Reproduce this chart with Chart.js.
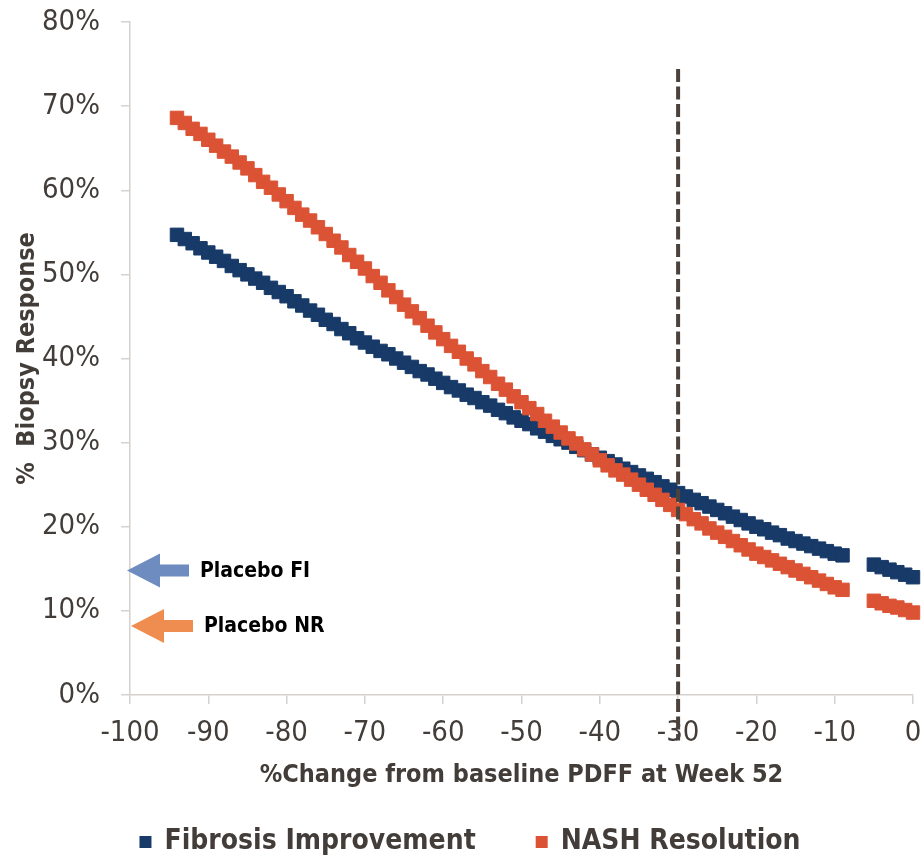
<!DOCTYPE html>
<html>
<head>
<meta charset="utf-8">
<script src="https://cdn.jsdelivr.net/npm/chart.js@4.4.1/dist/chart.umd.min.js"></script>
<style>
    html, body { margin: 0; padding: 0; background: #ffffff; }
</style>
</head>
<body>
<canvas id="biopsyChart" width="924" height="859"></canvas>
<script>
// % change from baseline PDFF at week 52 (x values, shared by both series)
var pdffChange = [
    -94, -93, -92, -91, -90, -89, -88, -87, -86, -85,
    -84, -83, -82, -81, -80, -79, -78, -77, -76, -75,
    -74, -73, -72, -71, -70, -69, -68, -67, -66, -65,
    -64, -63, -62, -61, -60, -59, -58, -57, -56, -55,
    -54, -53, -52, -51, -50, -49, -48, -47, -46, -45,
    -44, -43, -42, -41, -40, -39, -38, -37, -36, -35,
    -34, -33, -32, -31, -30, -29, -28, -27, -26, -25,
    -24, -23, -22, -21, -20, -19, -18, -17, -16, -15,
    -14, -13, -12, -11, -10, -9,
    -5, -4, -3, -2, -1, 0
];

// Fibrosis Improvement (%)
var fibrosisImprovement = [
    54.7, 54.2, 53.7, 53.1, 52.6, 52.1, 51.6, 51.0, 50.5, 50.0,
    49.5, 49.0, 48.4, 47.9, 47.4, 46.8, 46.3, 45.7, 45.2, 44.6,
    44.1, 43.5, 43.0, 42.4, 41.9, 41.4, 40.9, 40.5, 40.0, 39.5,
    39.0, 38.5, 38.1, 37.6, 37.1, 36.6, 36.2, 35.7, 35.3, 34.8,
    34.4, 33.9, 33.5, 33.0, 32.6, 32.2, 31.7, 31.3, 30.8, 30.4,
    30.0, 29.5, 29.1, 28.6, 28.2, 27.8, 27.4, 26.9, 26.5, 26.1,
    25.7, 25.3, 24.8, 24.4, 24.0, 23.6, 23.2, 22.8, 22.4, 22.0,
    21.6, 21.2, 20.8, 20.4, 20.0, 19.7, 19.3, 19.0, 18.6, 18.3,
    18.0, 17.7, 17.4, 17.1, 16.8, 16.6,
    15.5, 15.2, 14.9, 14.6, 14.3, 14.0
];

// NASH Resolution (%)
var nashResolution = [
    68.6, 68.0, 67.3, 66.7, 66.0, 65.3, 64.6, 64.0, 63.3, 62.6,
    61.8, 61.0, 60.3, 59.5, 58.7, 57.9, 57.1, 56.4, 55.6, 54.8,
    54.0, 53.2, 52.3, 51.5, 50.7, 49.8, 49.0, 48.1, 47.3, 46.4,
    45.6, 44.8, 43.9, 43.1, 42.3, 41.5, 40.8, 40.0, 39.3, 38.5,
    37.8, 37.0, 36.3, 35.5, 34.8, 34.1, 33.4, 32.6, 31.9, 31.2,
    30.5, 29.9, 29.2, 28.6, 27.9, 27.3, 26.7, 26.2, 25.6, 25.0,
    24.4, 23.8, 23.2, 22.6, 22.0, 21.5, 20.9, 20.4, 19.8, 19.3,
    18.8, 18.3, 17.8, 17.3, 16.8, 16.4, 16.0, 15.6, 15.2, 14.8,
    14.4, 14.0, 13.6, 13.2, 12.8, 12.5,
    11.2, 10.9, 10.6, 10.4, 10.1, 9.8
];

// placebo reference levels (arrows on the left)
var placeboLabels = ['Placebo FI', 'Placebo NR'];
var placeboValues = [14.8, 8.2];

// vertical cut-off
var cutoffChange = -30;

var FONT = "'Liberation Sans Narrow', 'DejaVu Sans Condensed', 'Open Sans', sans-serif";
var TEXT = '#433d39';
var AXIS = '#d6d1cd';

function toPoints(ys) {
    return pdffChange.map(function (x, i) { return { x: x, y: ys[i] }; });
}

var annotations = {
    id: 'annotations',
    afterDatasetsDraw: function (chart) {
        var ctx = chart.ctx;
        var xs = chart.scales.x, ys = chart.scales.y;

        // dashed line at -30
        var lx = xs.getPixelForValue(cutoffChange);
        ctx.save();
        ctx.strokeStyle = '#4b423d';
        ctx.lineWidth = 4;
        ctx.setLineDash([13, 4.5]);
        ctx.beginPath();
        ctx.moveTo(lx, ys.getPixelForValue(74.4));
        ctx.lineTo(lx, ys.getPixelForValue(-5.4));
        ctx.stroke();
        ctx.restore();

        // placebo arrows
        var colors = ['#6e8cbf', '#ef8d50'];
        var tips = [-3, 1];
        placeboValues.forEach(function (v, i) {
            var tx = xs.getPixelForValue(-100) + tips[i];
            var ty = ys.getPixelForValue(v);
            ctx.save();
            ctx.fillStyle = colors[i];
            ctx.beginPath();
            ctx.moveTo(tx, ty);
            ctx.lineTo(tx + 33, ty - 17);
            ctx.lineTo(tx + 33, ty - 6);
            ctx.lineTo(tx + 62, ty - 6);
            ctx.lineTo(tx + 62, ty + 6);
            ctx.lineTo(tx + 33, ty + 6);
            ctx.lineTo(tx + 33, ty + 17);
            ctx.closePath();
            ctx.fill();
            ctx.fillStyle = '#000000';
            ctx.font = 'bold 21px ' + FONT;
            ctx.textBaseline = 'middle';
            ctx.fillText(placeboLabels[i], tx + 73, ty + 1);
            ctx.restore();
        });
    },
    afterDraw: function (chart) {
        // legend under the axis title
        var ctx = chart.ctx;
        var sets = chart.data.datasets;
        ctx.save();
        ctx.font = 'bold 28px ' + FONT;
        ctx.textBaseline = 'middle';
        var widths = sets.map(function (ds) { return 25 + ctx.measureText(ds.label).width; });
        var total = widths.reduce(function (a, b) { return a + b; }, 0) + 60 * (sets.length - 1);
        var x = 470 - total / 2;
        var y = 842;
        sets.forEach(function (ds, i) {
            ctx.fillStyle = ds.backgroundColor;
            ctx.fillRect(x, y - 6, 12, 12);
            ctx.fillStyle = TEXT;
            ctx.fillText(ds.label, x + 25, y);
            x += widths[i] + 60;
        });
        ctx.restore();
    }
};

var ctx = document.getElementById('biopsyChart').getContext('2d');
var biopsyChart = new Chart(ctx, {
    type: 'scatter',
    data: {
        datasets: [{
            label: 'Fibrosis Improvement',
            data: toPoints(fibrosisImprovement),
            pointStyle: 'rect',
            pointRadius: 9.5,
            pointHoverRadius: 9.5,
            backgroundColor: '#173a69',
            borderColor: '#173a69',
            borderWidth: 1,
            clip: false,
            order: 1
        }, {
            label: 'NASH Resolution',
            data: toPoints(nashResolution),
            pointStyle: 'rect',
            pointRadius: 9.5,
            pointHoverRadius: 9.5,
            backgroundColor: '#db5334',
            borderColor: '#db5334',
            borderWidth: 1,
            clip: false,
            order: 0
        }]
    },
    options: {
        responsive: false,
        animation: false,
        layout: { padding: { top: 22, right: 11, bottom: 60, left: 0 } },
        plugins: {
            tooltip: { enabled: false },
            legend: { display: false }
        },
        scales: {
            x: {
                type: 'linear',
                min: -100,
                max: 0,
                afterFit: function (scale) {
                    scale.height = 104;
                    scale.paddingLeft = 0;
                    scale.paddingRight = 0;
                },
                ticks: {
                    stepSize: 10,
                    padding: 12,
                    color: TEXT,
                    font: { family: FONT, size: 29 }
                },
                grid: { drawOnChartArea: false, drawTicks: true, tickLength: 9, color: AXIS, lineWidth: 1.5 },
                border: { display: true, color: AXIS, width: 1.5 },
                title: {
                    display: true,
                    text: '%Change from baseline PDFF at Week 52',
                    color: TEXT,
                    font: { family: FONT, size: 25, weight: 'bold' },
                    padding: { top: 0, bottom: 9 }
                }
            },
            y: {
                min: 0,
                max: 80,
                afterFit: function (scale) {
                    scale.width = 130;
                    scale.paddingTop = 0;
                    scale.paddingBottom = 0;
                },
                ticks: {
                    stepSize: 10,
                    padding: 21,
                    color: TEXT,
                    font: { family: FONT, size: 29 },
                    callback: function (v) { return v + '%'; }
                },
                grid: { drawOnChartArea: false, drawTicks: true, tickLength: 9, color: AXIS, lineWidth: 1.5 },
                border: { display: true, color: AXIS, width: 1.5 },
                title: {
                    display: true,
                    text: '%  Biopsy Response',
                    color: TEXT,
                    font: { family: FONT, size: 25, weight: 'bold' },
                    padding: { top: 12, bottom: 0 }
                }
            }
        }
    },
    plugins: [annotations]
});
</script>
</body>
</html>
